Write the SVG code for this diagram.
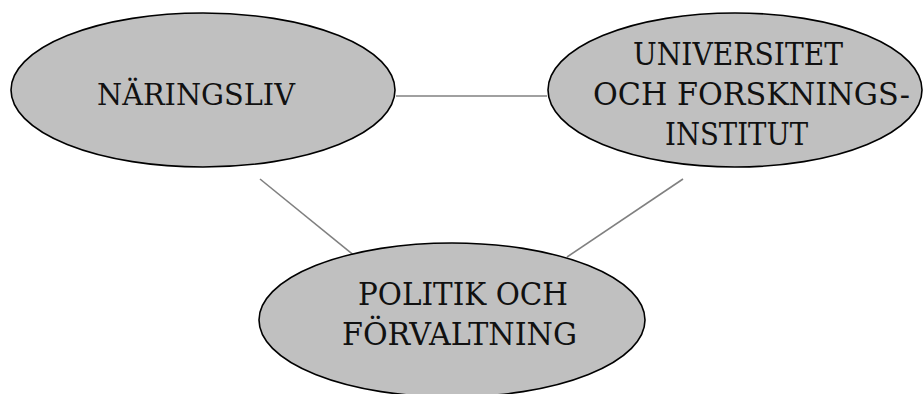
<svg xmlns="http://www.w3.org/2000/svg" width="923" height="394" viewBox="0 0 923 394">
<style>
.node ellipse{fill:#c0c0c0;stroke:#000;stroke-width:1.6}
.node text{font-family:'DejaVu Serif',serif;font-size:31px;fill:#111}
.edge{stroke:#808080;stroke-width:1.6;fill:none}
</style>
<rect width="923" height="394" fill="#fff"/>
<g id="connectors">
<line class="edge" x1="396" y1="96" x2="547" y2="96"/>
<line class="edge" x1="260" y1="179" x2="356" y2="257"/>
<line class="edge" x1="683" y1="179" x2="567" y2="257"/>
</g>
<g id="node-naringsliv" class="node">
<ellipse cx="203" cy="90" rx="192" ry="77"/>
<text x="97" y="105" textLength="198" lengthAdjust="spacingAndGlyphs" style="font-size:29px">NÄRINGSLIV</text>
</g>
<g id="node-universitet" class="node">
<ellipse cx="735" cy="90" rx="187" ry="77"/>
<text x="633" y="65" textLength="210" lengthAdjust="spacingAndGlyphs">UNIVERSITET</text>
<text x="593" y="105" textLength="317" lengthAdjust="spacingAndGlyphs">OCH FORSKNINGS-</text>
<text x="665" y="145" textLength="143" lengthAdjust="spacingAndGlyphs">INSTITUT</text>
</g>
<g id="node-politik" class="node">
<ellipse cx="452" cy="320" rx="193" ry="77"/>
<text x="358" y="305" textLength="210" lengthAdjust="spacingAndGlyphs">POLITIK OCH</text>
<text x="342" y="345" textLength="235" lengthAdjust="spacingAndGlyphs">FÖRVALTNING</text>
</g>
</svg>
